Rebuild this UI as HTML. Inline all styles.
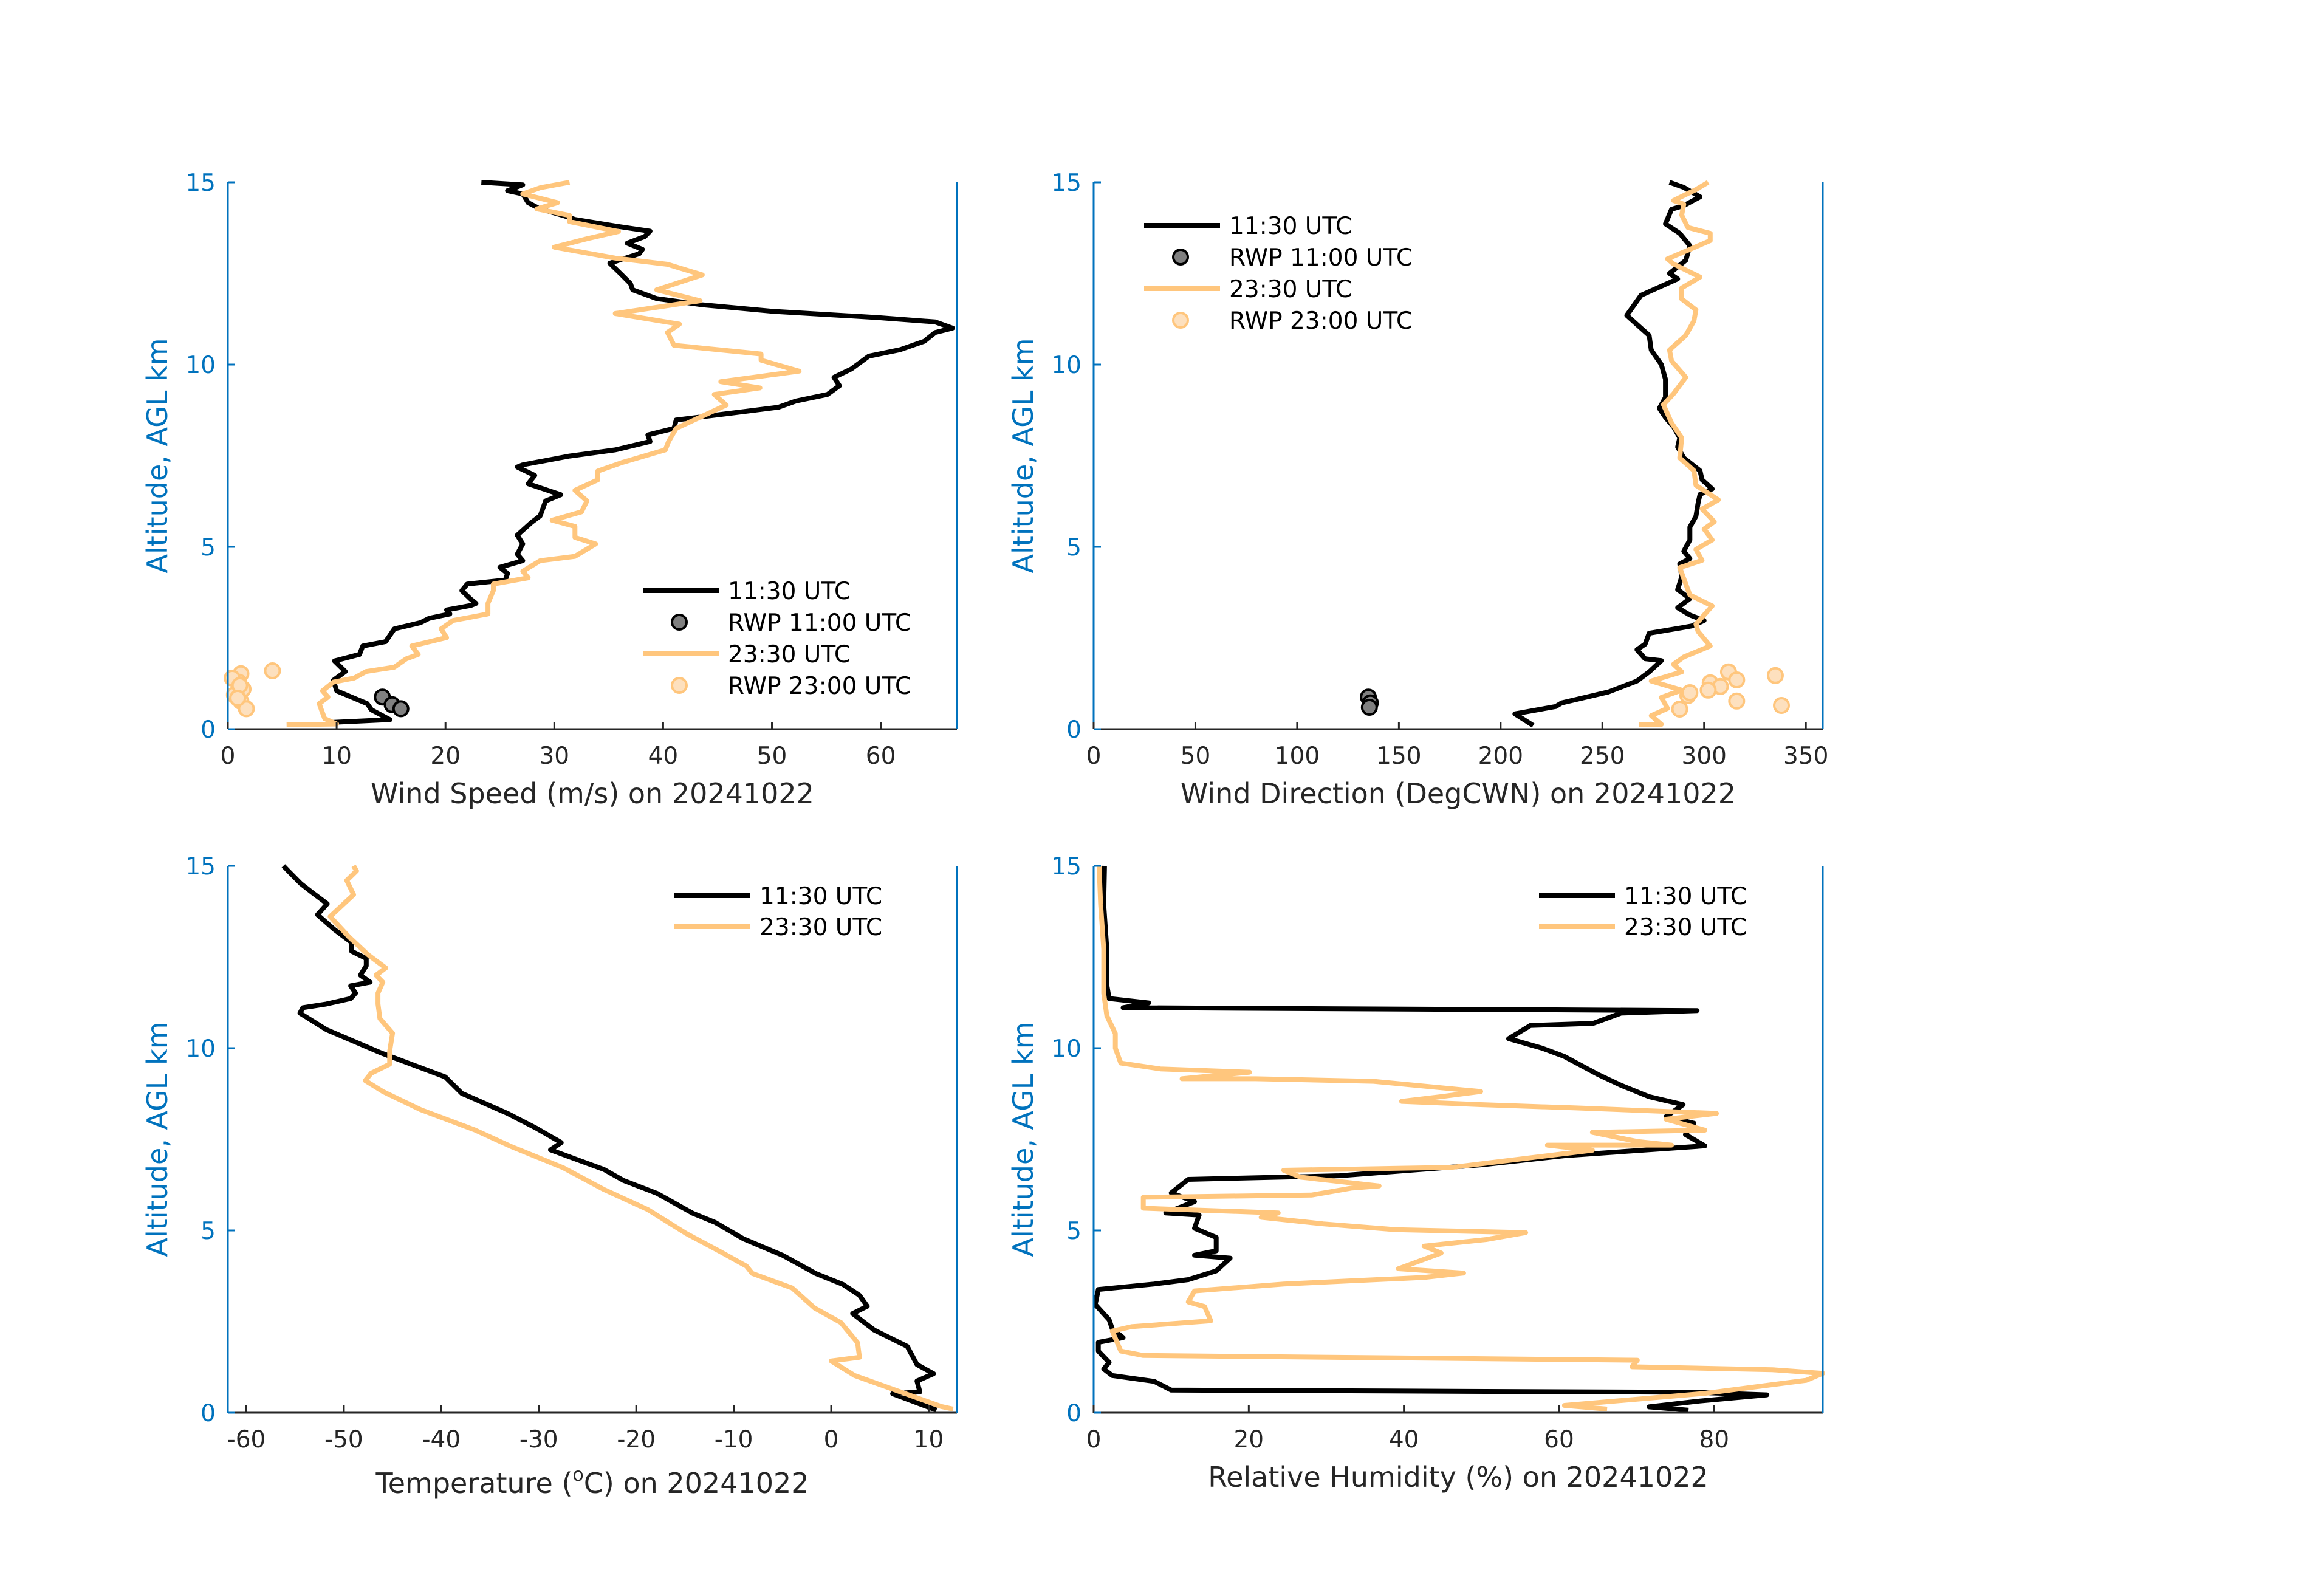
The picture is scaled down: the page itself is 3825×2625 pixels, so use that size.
<!DOCTYPE html>
<html><head><meta charset="utf-8">
<style>
html,body{margin:0;padding:0;background:#fff;}
svg{display:block;font-family:"DejaVu Sans","Liberation Sans",sans-serif;}
</style></head>
<body>
<svg id="fig" width="3825" height="2625" viewBox="0 0 3825 2625" xmlns="http://www.w3.org/2000/svg">
<rect width="3825" height="2625" fill="#fff"/>
</svg>
<script>
// ---- Panel 1: wind speed (m/s) vs altitude (km)
const wsBlackH=[0.18,0.26,0.53,0.7,1.05,1.34,1.58,1.87,2.05,2.28,2.4,2.75,2.92,3.04,3.16,3.27,3.39,3.45,3.57,3.8,3.98,4.09,4.27,4.44,4.62,4.8,5.08,5.32,5.67,5.85,6.26,6.43,6.73,6.96,7.19,7.25,7.49,7.66,7.89,8.07,8.25,8.48,8.65,8.83,9.0,9.18,9.42,9.65,9.88,10.23,10.41,10.64,10.88,11.0,11.17,11.29,11.46,11.64,11.81,12.05,12.22,12.46,12.78,13.04,13.16,13.33,13.51,13.66,13.8,13.98,14.09,14.27,14.44,14.68,14.77,14.93,15.0];
const wsBlackV=[9.2,14.9,13.2,12.8,10.0,9.7,10.8,9.8,12.1,12.4,14.5,15.3,17.7,18.5,20.4,20.1,22.3,22.8,22.3,21.5,22.0,25.5,25.7,25.0,27.1,26.6,27.1,26.6,27.9,28.7,29.2,30.6,27.6,28.2,26.6,27.1,31.4,35.6,38.8,38.6,41.0,41.2,45.8,50.6,52.2,55.1,56.2,55.7,57.3,58.9,61.8,64.0,65.0,66.6,65.0,59.7,50.1,43.6,39.4,37.2,37.0,36.2,35.1,37.8,38.1,36.7,38.3,38.8,35.6,31.9,30.8,28.7,27.6,27.1,25.7,27.1,23.3];
const wsOrangeH=[0.12,0.14,0.29,0.53,0.7,0.88,1.05,1.29,1.4,1.58,1.7,1.93,2.05,2.28,2.51,2.75,2.98,3.16,3.45,3.8,3.98,4.15,4.33,4.62,4.74,5.08,5.26,5.56,5.73,5.96,6.26,6.55,6.84,7.08,7.31,7.66,7.89,8.25,8.89,9.18,9.36,9.53,9.82,10.12,10.29,10.53,10.88,11.11,11.4,11.75,12.05,12.46,12.75,12.92,13.22,13.45,13.65,13.92,14.09,14.27,14.44,14.68,14.85,15.0];
const wsOrangeV=[5.4,10.0,8.9,8.6,8.4,9.2,8.7,9.7,11.6,12.7,15.3,16.4,17.5,16.9,20.1,19.6,20.7,23.9,23.9,24.4,24.4,27.6,27.1,28.7,31.9,33.8,31.9,31.9,29.8,32.5,33.0,31.9,34.0,34.0,36.2,40.2,40.5,41.2,45.8,44.7,48.9,45.3,52.5,49.0,49.0,41.0,40.4,41.5,35.6,43.4,39.4,43.6,40.4,35.6,30.0,33.0,35.9,31.4,31.4,28.4,30.3,27.1,28.7,31.4];
const rwp11wsH=[0.88,0.67,0.56];
const rwp11wsV=[14.2,15.1,15.9];
const rwp23wsH=[1.6,1.52,1.29,1.1,0.94,0.76,0.56,1.4,1.2,0.85];
const rwp23wsV=[4.1,1.2,1.0,1.4,0.6,1.2,1.7,0.4,1.1,0.9];
// ---- Panel 2: wind direction (deg)
const wdBlackH=[0.1,0.42,0.62,0.72,1.02,1.32,1.57,1.88,1.93,2.18,2.33,2.63,2.78,2.83,2.98,3.13,3.33,3.58,3.83,4.18,4.53,4.68,4.88,5.19,5.54,5.84,6.19,6.44,6.59,6.84,7.09,7.44,7.74,7.99,8.29,8.55,8.8,9.1,9.6,10.0,10.4,10.8,11.1,11.35,11.9,12.2,12.35,12.5,12.86,13.26,13.6,13.86,14.26,14.36,14.6,14.86,15.0];
const wdBlackV=[216,207,227,230,253,267,273,279,271,267,271,273,289,294,300,293,287,293,287,289,288,293,290,293,293,296,297,298,304,299,298,290,287,288,285,281,278,281,281,279,274,273,267,262,269,281,287,283,291,293,288,281,284,290,298,290,283];
const wdOrangeH=[0.12,0.13,0.37,0.57,0.87,1.07,1.32,1.57,1.78,1.98,2.28,2.68,2.88,3.38,3.68,4.43,4.63,4.93,5.19,5.49,5.69,6.04,6.29,6.69,7.09,7.44,7.99,8.4,8.9,9.2,9.65,10.1,10.4,10.8,11.2,11.5,11.8,12.1,12.4,12.76,12.9,13.16,13.4,13.6,13.76,14.1,14.4,14.5,14.8,15.0];
const wdOrangeV=[268,279,274,282,279,289,274,289,285,290,303,297,296,304,293,288,299,296,304,300,305,299,307,296,295,288,289,284,280,285,291,284,283,291,295,296,289,289,298,285,282,293,303,303,292,289,290,285,296,302];
const rwp11wdH=[0.88,0.72,0.6];
const rwp11wdV=[135,136,135.5];
const rwp23wdH=[1.57,1.35,1.47,1.27,1.17,1.07,0.92,0.77,0.65,0.55,1.0];
const rwp23wdV=[312,316,335,303,308,302,292,316,338,288,293];
// ---- Panel 3: temperature (deg C)
const tBlackH=[0.07,0.52,0.57,0.87,1.07,1.32,1.82,2.27,2.72,2.92,3.22,3.52,3.82,4.32,4.77,5.22,5.47,6.02,6.37,6.67,7.21,7.41,7.81,8.21,8.76,9.21,9.61,9.86,10.51,10.96,11.11,11.21,11.36,11.51,11.71,11.81,12.0,12.26,12.46,12.66,12.9,13.26,13.66,13.96,14.26,14.51,14.86,15.0];
const tBlackV=[10.8,6.3,9.1,8.8,10.5,8.8,7.8,4.4,2.2,3.7,2.9,1.2,-1.6,-5.0,-9.0,-11.9,-14.2,-17.9,-21.3,-23.3,-28.8,-27.7,-30.3,-33.2,-37.9,-39.6,-43.6,-46.1,-51.8,-54.5,-54.2,-51.8,-49.3,-48.8,-49.3,-47.3,-48.3,-47.7,-47.7,-49.2,-49.2,-51.0,-52.7,-51.7,-53.2,-54.4,-55.7,-56.2];
const tOrangeH=[0.1,0.17,1.02,1.42,1.52,1.92,2.47,2.87,3.42,3.82,4.02,4.42,4.92,5.57,6.12,6.72,7.31,7.76,8.31,8.81,9.11,9.31,9.56,9.91,10.41,10.81,11.21,11.51,11.81,12.0,12.2,12.56,13.06,13.61,13.91,14.21,14.6,14.86,15.0];
const tOrangeV=[12.5,11.3,2.4,0.0,2.9,2.7,1.0,-1.7,-4.0,-8.1,-8.7,-11.4,-14.9,-18.8,-23.3,-27.5,-32.9,-36.6,-42.1,-46.0,-47.8,-47.2,-45.3,-45.3,-45.0,-46.3,-46.5,-46.5,-46.0,-46.7,-45.7,-47.5,-49.5,-51.4,-50.2,-49.0,-49.7,-48.7,-49.0];
// ---- Panel 4: relative humidity (%)
const rhBlackH=[0.07,0.16,0.32,0.49,0.56,0.62,0.86,1.02,1.2,1.38,1.69,1.93,2.06,2.3,2.55,2.97,3.38,3.53,3.65,3.89,4.24,4.32,4.44,4.81,5.06,5.42,5.48,5.79,6.03,6.4,6.5,6.8,7.05,7.32,7.63,7.94,8.12,8.45,8.67,8.98,9.28,9.77,10.0,10.26,10.62,10.68,10.96,11.03,11.11,11.24,11.36,11.73,12.71,13.94,15.0];
const rhBlackV=[76.7,71.6,78.1,86.8,77.4,10.0,7.8,2.4,1.3,2.0,0.6,0.6,3.8,2.4,2.0,0.2,0.6,7.8,12.2,15.8,17.6,13.0,15.8,15.8,13.0,13.6,9.3,13.0,10.0,12.2,31.7,50.0,60.7,78.8,76.3,77.4,73.8,76.0,71.6,68.0,65.0,60.7,57.8,53.5,56.3,64.4,68.0,77.8,3.8,7.1,2.0,1.7,1.7,1.3,1.4];
const rhOrangeH=[0.1,0.2,0.53,0.89,1.08,1.18,1.26,1.44,1.57,1.69,2.24,2.36,2.52,2.91,3.04,3.34,3.53,3.71,3.83,3.95,4.38,4.57,4.75,4.94,5.02,5.18,5.36,5.48,5.61,5.91,5.97,6.16,6.22,6.46,6.65,6.73,7.2,7.34,7.34,7.44,7.69,7.75,8.05,8.21,8.36,8.45,8.54,8.67,8.81,9.09,9.16,9.16,9.34,9.43,9.59,10.0,10.4,10.89,11.5,12.71,13.94,15.0];
const rhOrangeV=[66.2,60.7,78.8,91.9,94.0,87.5,69.4,70.1,6.4,3.5,2.4,4.9,15.1,14.3,12.2,13.0,24.5,42.6,47.7,39.3,44.8,42.6,50.6,55.7,39.0,29.6,21.6,23.8,6.4,6.4,28.1,33.2,36.8,26.7,24.5,46.2,64.3,58.5,74.5,70.1,64.3,78.8,73.8,80.3,62.2,49.9,39.7,44.8,49.9,36.1,20.9,11.4,20.1,8.6,3.5,2.8,2.8,1.7,1.3,1.3,0.9,0.7];
const yTicks=[0,5,10,15];
const wsTicks=[0,10,20,30,40,50,60];
const wdTicks=[0,50,100,150,200,250,300,350];
const tTicks=[-60,-50,-40,-30,-20,-10,0,10];
const rhTicks=[0,20,40,60,80];

const NS='http://www.w3.org/2000/svg';
const fig=document.getElementById('fig');
const BLUE='#0072BD', DARK='#262626', ORANGE='#FFC67D';
function mk(tag,attrs,parent){const e=document.createElementNS(NS,tag);for(const k in attrs)e.setAttribute(k,attrs[k]);(parent||fig).appendChild(e);return e;}

function panel(cfg){
  const g=mk('g',{});
  
  
  const L=cfg.x0,R=cfg.x1,T=cfg.y0,B=cfg.y1;
  const sx=v=>L+(v-cfg.xmin)/(cfg.xmax-cfg.xmin)*(R-L);
  const sy=h=>B-(h/15)*(B-T);
  // series
  cfg.lines.forEach(s=>{
    let d='';
    for(let i=0;i<s.h.length;i++){d+=(i?'L':'M')+sx(s.v[i]).toFixed(1)+','+sy(s.h[i]).toFixed(1);}
    const p=mk('path',{d:d,fill:'none',stroke:s.color,'stroke-width':8,'stroke-linejoin':'round','stroke-linecap':'butt'},g);
    
    
  });
  (cfg.dots||[]).forEach(s=>{
    for(let i=0;i<s.h.length;i++){
      const c=mk('circle',{cx:sx(s.v[i]),cy:sy(s.h[i]),r:12,fill:s.fill,stroke:s.stroke,'stroke-width':4},g);
      
      
    }
  });
  // axes
  const xa=mk('line',{x1:L,y1:B,x2:R,y2:B,stroke:DARK,'stroke-width':3},g);
  
  
  const ya=mk('line',{x1:L,y1:T,x2:L,y2:B,stroke:BLUE,'stroke-width':3},g);
  
  
  const ra=mk('line',{x1:R,y1:T,x2:R,y2:B,stroke:BLUE,'stroke-width':3},g);
  
  
  cfg.xticks.forEach(v=>{
    const x=sx(v);
    mk('line',{x1:x,y1:B,x2:x,y2:B-12,stroke:DARK,'stroke-width':3},g);
    const t=mk('text',{x:x,y:B+57,'text-anchor':'middle','font-size':39,fill:DARK},g);
    t.textContent=String(v);
    
    
  });
  yTicks.forEach(h=>{
    const y=sy(h);
    mk('line',{x1:L,y1:y,x2:L+12,y2:y,stroke:BLUE,'stroke-width':3},g);
    const t=mk('text',{x:L-20,y:y+14,'text-anchor':'end','font-size':39,fill:BLUE},g);
    t.textContent=String(h);
    
    
  });
  const yl=mk('text',{x:0,y:0,'text-anchor':'middle','font-size':46,fill:BLUE,transform:'translate('+(L-100)+','+((T+B)/2)+') rotate(-90)'},g);
  yl.textContent='Altitude, AGL km';
  
  
  const xl=mk('text',{x:(L+R)/2,y:B+cfg.labelDy,'text-anchor':'middle','font-size':46,fill:DARK},g);
  xl.innerHTML=cfg.label;
  
  
  // legend
  const lg=mk('g',{},g);
  
  
  cfg.legend.items.forEach((it,i)=>{
    const y=cfg.legend.y+i*cfg.legend.dy;
    const e=mk('g',{},lg);
    
    
    if(it.type==='line'){mk('line',{x1:cfg.legend.x,y1:y,x2:cfg.legend.x+125,y2:y,stroke:it.color,'stroke-width':8},e);}
    else{mk('circle',{cx:cfg.legend.x+60,cy:y,r:12,fill:it.fill,stroke:it.stroke,'stroke-width':4},e);}
    const t=mk('text',{x:cfg.legend.x+140,y:y+14,'font-size':39,fill:'#000'},e);
    t.textContent=it.text;
  });
}
const leg4=(x,y)=>({x:x,y:y,dy:52,items:[
  {type:'line',color:'#000',text:'11:30 UTC'},
  {type:'dot',fill:'#808080',stroke:'#000',text:'RWP 11:00 UTC'},
  {type:'line',color:ORANGE,text:'23:30 UTC'},
  {type:'dot',fill:'#FDE0BE',stroke:ORANGE,text:'RWP 23:00 UTC'}]});
const leg2=(x,y)=>({x:x,y:y,dy:51,items:[
  {type:'line',color:'#000',text:'11:30 UTC'},
  {type:'line',color:ORANGE,text:'23:30 UTC'}]});

panel({name:'wind-speed-panel',x0:375,x1:1575,y0:300,y1:1200,xmin:0,xmax:67,xticks:wsTicks,labelDy:122,
  label:'Wind Speed (m/s) on 20241022',
  lines:[{name:'wind-speed-1130',h:wsBlackH,v:wsBlackV,color:'#000'},{name:'wind-speed-2330',h:wsOrangeH,v:wsOrangeV,color:ORANGE}],
  dots:[{name:'rwp-1100',h:rwp11wsH,v:rwp11wsV,fill:'#808080',stroke:'#000'},{name:'rwp-2300',h:rwp23wsH,v:rwp23wsV,fill:'#FDE0BE',stroke:ORANGE}],
  legend:leg4(1058,972)});
panel({name:'wind-direction-panel',x0:1800,x1:3000,y0:300,y1:1200,xmin:0,xmax:358.3,xticks:wdTicks,labelDy:122,
  label:'Wind Direction (DegCWN) on 20241022',
  lines:[{name:'wind-dir-1130',h:wdBlackH,v:wdBlackV,color:'#000'},{name:'wind-dir-2330',h:wdOrangeH,v:wdOrangeV,color:ORANGE}],
  dots:[{name:'rwp-1100',h:rwp11wdH,v:rwp11wdV,fill:'#808080',stroke:'#000'},{name:'rwp-2300',h:rwp23wdH,v:rwp23wdV,fill:'#FDE0BE',stroke:ORANGE}],
  legend:leg4(1883,371)});
panel({name:'temperature-panel',x0:375,x1:1575,y0:1425,y1:2325,xmin:-61.9,xmax:12.9,xticks:tTicks,labelDy:132,
  label:'Temperature (<tspan font-size="30" dy="-20">o</tspan><tspan dy="20">C) on 20241022</tspan>',
  lines:[{name:'temp-1130',h:tBlackH,v:tBlackV,color:'#000'},{name:'temp-2330',h:tOrangeH,v:tOrangeV,color:ORANGE}],
  legend:leg2(1110,1474)});
panel({name:'humidity-panel',x0:1800,x1:3000,y0:1425,y1:2325,xmin:0,xmax:94,xticks:rhTicks,labelDy:122,
  label:'Relative Humidity (%) on 20241022',
  lines:[{name:'rh-1130',h:rhBlackH,v:rhBlackV,color:'#000'},{name:'rh-2330',h:rhOrangeH,v:rhOrangeV,color:ORANGE}],
  legend:leg2(2533,1474)});
</script>
</body></html>
